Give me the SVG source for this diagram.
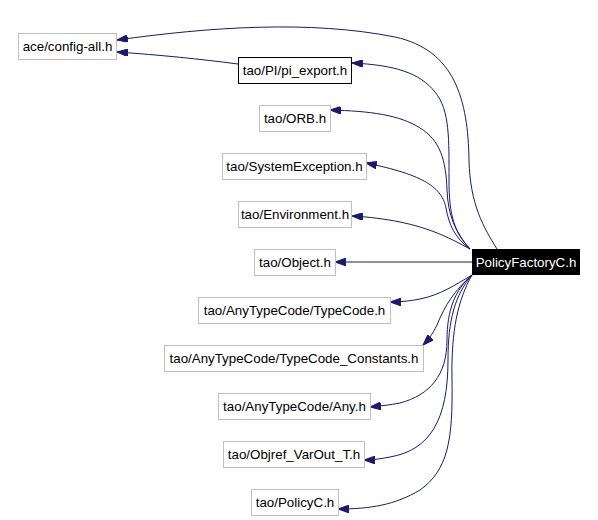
<svg xmlns="http://www.w3.org/2000/svg" width="598" height="520" viewBox="0 0 598 520">
<style>
.n rect{fill:#fff;stroke:#bfbfbf;stroke-width:1}
.n text{font-family:"Liberation Sans",Arial,sans-serif;font-size:13.33px;fill:#000;text-anchor:middle}
#pi rect{stroke:#000}
#main rect{fill:#000;stroke:#000}
#main text{fill:#fff}
.e path{fill:none;stroke:#191970;stroke-width:1;marker-end:url(#ah)}
</style>
<defs>
<marker id="ah" viewBox="0 0 10 7" refX="10" refY="3.5" markerWidth="11" markerHeight="7.5" orient="auto" markerUnits="userSpaceOnUse">
<path d="M0,0 L10,3.5 L0,7 z" fill="#191970" stroke="#191970"/>
</marker>
</defs>
<rect width="598" height="520" fill="#fff"/>
<g class="e" id="edges">
<path d="M497,249 C484,228 470,205 469,160 C468,100 455,50 395,37 C310,20 210,27 117,40"/>
<path d="M238,64 C200,59 160,55 117,52"/>
<path d="M470,249 C454,232 449,215 449,180 C449,140 450,110 435,92 C420,73 395,65 352,63"/>
<path d="M470,249 C455,232 448,215 447,190 C446,160 440,140 420,128 C400,115 370,111 330,110"/>
<path d="M470,249 C455,238 449,225 446,208 C442,188 425,175 366,163"/>
<path d="M470,249 C450,238 430,228 400,222 C385,219 370,217 352,216"/>
<path d="M472,262 L335,262"/>
<path d="M472,275 C455,285 440,295 420,299 C410,301 400,302 390,302"/>
<path d="M472,275 C455,290 445,305 437,325 C432,335 428,340 423,345"/>
<path d="M472,275 C455,290 447,310 447,340 C447,375 430,395 400,403 C390,405 380,406 370,407"/>
<path d="M472,275 C455,295 448,320 448,360 C448,420 430,450 390,457 C380,459 372,460 364,460"/>
<path d="M472,275 C458,300 451,330 452,380 C453,440 448,470 420,490 C395,505 370,509 338,509"/>
</g>
<g class="n" id="ace"><rect x="18.5" y="33.5" width="98" height="26"/><text x="67.5" y="51">ace/config-all.h</text></g>
<g class="n" id="pi"><rect x="238.5" y="57.5" width="113" height="26"/><text x="295" y="75">tao/PI/pi_export.h</text></g>
<g class="n" id="orb"><rect x="259.5" y="105.5" width="71" height="26"/><text x="295" y="123">tao/ORB.h</text></g>
<g class="n" id="sysex"><rect x="222.5" y="153.5" width="144" height="26"/><text x="294.5" y="171">tao/SystemException.h</text></g>
<g class="n" id="env"><rect x="238.5" y="201.5" width="113" height="26"/><text x="295" y="219">tao/Environment.h</text></g>
<g class="n" id="obj"><rect x="254.5" y="249.5" width="81" height="26"/><text x="295" y="267">tao/Object.h</text></g>
<g class="n" id="main"><rect x="472.5" y="249.5" width="107" height="25"/><text x="526" y="267">PolicyFactoryC.h</text></g>
<g class="n" id="tc"><rect x="198.5" y="297.5" width="192" height="26"/><text x="294.5" y="315">tao/AnyTypeCode/TypeCode.h</text></g>
<g class="n" id="tcc"><rect x="164.5" y="345.5" width="259" height="26"/><text x="294" y="363">tao/AnyTypeCode/TypeCode_Constants.h</text></g>
<g class="n" id="any"><rect x="218.5" y="393.5" width="152" height="26"/><text x="294.5" y="411">tao/AnyTypeCode/Any.h</text></g>
<g class="n" id="objref"><rect x="223.5" y="441.5" width="141" height="26"/><text x="294" y="459">tao/Objref_VarOut_T.h</text></g>
<g class="n" id="pol"><rect x="251.5" y="489.5" width="87" height="26"/><text x="295" y="507">tao/PolicyC.h</text></g>
</svg>
